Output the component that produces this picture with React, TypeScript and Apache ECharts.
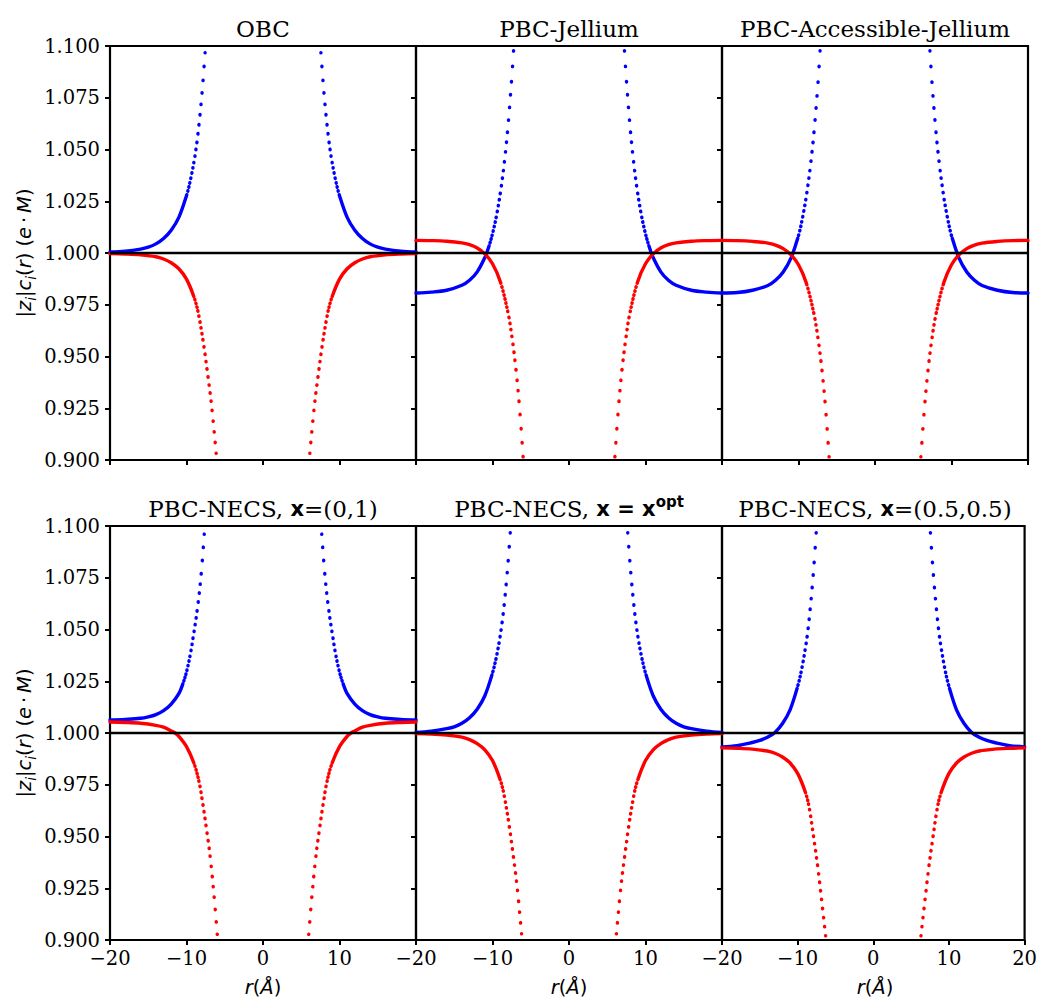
import React, { useEffect, useRef } from "react";
import * as echarts from "echarts";

// ---------- data (left branches; right branches mirror them) ----------
const TITLES_TOP = ["OBC", "PBC-Jellium", "PBC-Accessible-Jellium"];
const TITLES_BOTTOM = [
  "{s|PBC-NECS, }{b|x}{s|=(0,1)}",
  "{s|PBC-NECS, }{b|x = x}{sup|opt}",
  "{s|PBC-NECS, }{b|x}{s|=(0.5,0.5)}",
];

const blueOBC = [[-20, 1.0005], [-18, 1.0009], [-16, 1.0019], [-15, 1.0028], [-14, 1.0044], [-13, 1.007], [-12, 1.011], [-11, 1.0172], [-10, 1.0277], [-9.5, 1.035], [-9, 1.0445], [-8.65, 1.0531], [-8.39, 1.0613], [-8.12, 1.0712], [-7.91, 1.08], [-7.57, 1.0968]];
const redOBC = [[-20, 0.9997], [-18, 0.9995], [-16, 0.9991], [-14, 0.9982], [-13, 0.9971], [-12, 0.9953], [-11, 0.9924], [-10, 0.9874], [-9, 0.9785], [-8.46, 0.971], [-7.81, 0.957], [-7.24, 0.9416], [-6.71, 0.926], [-6.12, 0.9032]];

const blueJel = [[-20, 0.9807], [-18, 0.9811], [-16, 0.982], [-14, 0.9844], [-13, 0.9868], [-12, 0.9909], [-11, 0.9978], [-10.5, 1.0028], [-10, 1.0093], [-9.5, 1.0176], [-9, 1.0284], [-8.5, 1.0423], [-8, 1.0603], [-7.5, 1.0837], [-7.25, 1.0977]];
const redJel = [[-20, 1.0061], [-18, 1.006], [-16, 1.0057], [-14, 1.0049], [-13, 1.004], [-12, 1.0024], [-11, 0.9996], [-10, 0.9948], [-9, 0.9864], [-8, 0.9717], [-7.5, 0.9606], [-7, 0.9461], [-6.5, 0.9269], [-6.0, 0.9015]];

const blueAcc = [[-20, 0.9807], [-18, 0.9809], [-16, 0.982], [-14, 0.9843], [-13, 0.9868], [-12, 0.9908], [-11, 0.9974], [-10, 1.0084], [-9.5, 1.0165], [-9, 1.0269], [-8.5, 1.0403], [-8, 1.0575], [-7.5, 1.0797], [-7.18, 1.0977]];
const redAcc = [[-20, 1.0061], [-18, 1.006], [-16, 1.0056], [-14, 1.0048], [-13, 1.0038], [-12, 1.0021], [-11, 0.9992], [-10, 0.9943], [-9, 0.9857], [-8, 0.9709], [-7.5, 0.9601], [-7, 0.9457], [-6.5, 0.9268], [-6.0, 0.9015]];

const blueN01 = [[-20, 1.0063], [-18, 1.0066], [-16, 1.0071], [-15, 1.0078], [-14, 1.0089], [-13, 1.0108], [-12, 1.014], [-11, 1.019], [-10.5, 1.0235], [-10, 1.0295], [-9.52, 1.0376], [-9.12, 1.0465], [-8.6, 1.0594], [-8.12, 1.0752], [-7.68, 1.0961]];
const redN01 = [[-20, 1.0053], [-18, 1.0051], [-16, 1.0047], [-14, 1.0037], [-13, 1.0028], [-12, 1.001], [-11.5, 1.0], [-11, 0.9984], [-10, 0.9934], [-9, 0.9851], [-8.34, 0.9761], [-7.95, 0.9677], [-7.43, 0.9548], [-6.9, 0.94], [-6.38, 0.9206], [-5.98, 0.9027]];

const blueOpt = [[-20, 1.0003], [-18, 1.0009], [-16, 1.0021], [-15, 1.003], [-14, 1.0047], [-13, 1.0074], [-12, 1.0115], [-11, 1.018], [-10, 1.029], [-9.5, 1.0366], [-9.1, 1.0445], [-8.8, 1.0518], [-8.5, 1.0612], [-8.2, 1.0724], [-7.95, 1.0832], [-7.68, 1.0968]];
const redOpt = [[-20, 0.9997], [-18, 0.9995], [-16, 0.999], [-14, 0.998], [-13, 0.9968], [-12, 0.9949], [-11, 0.9919], [-10, 0.9867], [-9, 0.9775], [-8.54, 0.971], [-7.89, 0.957], [-7.32, 0.9416], [-6.79, 0.926], [-6.2, 0.903]];

const blueN55 = [[-20, 0.9933], [-18, 0.9939], [-16, 0.9954], [-15, 0.9964], [-14, 0.9979], [-13, 1.0003], [-12, 1.0046], [-11, 1.0112], [-10, 1.0225], [-9.5, 1.0302], [-9, 1.0405], [-8.7, 1.0479], [-8.4, 1.0579], [-8.1, 1.0696], [-7.8, 1.0833], [-7.55, 1.0968]];
const redN55 = [[-20, 0.9928], [-18, 0.9926], [-16, 0.9922], [-14, 0.9913], [-13, 0.9902], [-12, 0.9884], [-11, 0.9855], [-10, 0.9805], [-9, 0.9716], [-8.5, 0.9645], [-7.9, 0.95], [-7.35, 0.9355], [-6.85, 0.92], [-6.3, 0.902]];

const BLUE_CURVES = [blueOBC, blueJel, blueAcc, blueN01, blueOpt, blueN55];
const RED_CURVES = [redOBC, redJel, redAcc, redN01, redOpt, redN55];
const REFERENCE_LEVEL = 1.0;
const SAMPLE_DX = 40 / 300; // spacing of the plotted sample points along r

// ---------- layout ----------
const X_MIN = -20, X_MAX = 20, Y_MIN = 0.9, Y_MAX = 1.1;
const COL_LEFT = [110, 416, 722];
const COL_W = 306;
const ROW_TOP = [46, 526];
const ROW_H = 414;
const BLUE = "#0000ff";
const RED = "#ff0000";
const SERIF = "DejaVu Serif";
const SANS = "DejaVu Sans";
const LINE_W = 3.4;
const DOT_THRESHOLD = 3.4;

function toPx(panel: number, p: number[]) {
  const row = Math.floor(panel / 3), col = panel % 3;
  return [
    COL_LEFT[col] + ((p[0] - X_MIN) / (X_MAX - X_MIN)) * COL_W,
    ROW_TOP[row] + ((Y_MAX - p[1]) / (Y_MAX - Y_MIN)) * ROW_H,
  ];
}

// Dash pattern reproducing uniformly sampled scatter dots. The branch runs from
// its steep end (first point) to the flat edge: separate dots first, then the
// region where the dots overlap is drawn solid.
function dashFor(panel: number, pts: number[][]) {
  const pix = pts.map((p) => toPx(panel, p));
  const cum = [0];
  for (let k = 1; k < pix.length; k++) {
    cum.push(cum[k - 1] + Math.hypot(pix[k][0] - pix[k - 1][0], pix[k][1] - pix[k - 1][1]));
  }
  const xStart = pts[0][0];
  const xEnd = pts[pts.length - 1][0];
  const dir = Math.sign(xEnd - xStart);
  const arcAtX = (x: number) => {
    for (let k = 0; k < pts.length - 1; k++) {
      const a = pts[k][0], b = pts[k + 1][0];
      if ((x - a) * dir >= 0 && (b - x) * dir >= 0) {
        const t = (x - a) / (b - a);
        return cum[k] + t * (cum[k + 1] - cum[k]);
      }
    }
    return cum[cum.length - 1];
  };
  const n = Math.floor(Math.abs(xEnd - xStart) / SAMPLE_DX);
  const samples: number[] = [];
  for (let j = 0; j <= n; j++) samples.push(arcAtX(xStart + dir * j * SAMPLE_DX));
  const dash: number[] = [0.5];
  for (let j = 1; j < samples.length; j++) {
    const gap = samples[j] - samples[j - 1];
    if (gap <= DOT_THRESHOLD) break;
    dash.push(Math.max(gap - 0.5, 0.1), 0.5);
  }
  dash.push(0.01, 5000);
  return dash;
}

function curveSeries(pts: number[][], color: string, panel: number, z: number) {
  const left = pts.slice().reverse();
  const right = left.map(([x, y]) => [-x, y]);
  return [left, right].map((br) => ({
    type: "line",
    xAxisIndex: panel,
    yAxisIndex: panel,
    data: br,
    symbol: "none",
    showSymbol: false,
    smooth: 0.35,
    silent: true,
    z,
    lineStyle: {
      color,
      width: LINE_W,
      cap: "round",
      join: "round",
      type: dashFor(panel, br),
    },
  }));
}

const tickFmtX = (v: number) => (v < 0 ? "\u2212" + Math.abs(v) : String(v));

export default function App() {
  const ref = useRef<HTMLDivElement>(null);
  useEffect(() => {
    if (!ref.current) return;
    const chart = echarts.init(ref.current, undefined, { renderer: "svg" });
    const grids: any[] = [];
    const xAxes: any[] = [];
    const yAxes: any[] = [];
    let series: any[] = [];
    const graphics: any[] = [];
    const tick = { show: true, inside: false, length: 5, lineStyle: { color: "#000", width: 2 } };
    for (let i = 0; i < 6; i++) {
      const row = Math.floor(i / 3);
      const col = i % 3;
      grids.push({
        left: COL_LEFT[col],
        top: ROW_TOP[row],
        width: COL_W,
        height: ROW_H,
        show: true,
        borderColor: "#000",
        borderWidth: 2.2,
        backgroundColor: "transparent",
        containLabel: false,
      });
      xAxes.push({
        gridIndex: i,
        type: "value",
        position: "bottom",
        min: X_MIN,
        max: X_MAX,
        interval: 10,
        axisLine: { show: false, onZero: false },
        axisTick: tick,
        splitLine: { show: false },
        axisLabel: {
          show: row === 1,
          showMaxLabel: col === 2,
          showMinLabel: true,
          formatter: tickFmtX,
          fontFamily: SERIF,
          fontSize: 19.5,
          color: "#000",
          margin: 8,
        },
      });
      yAxes.push({
        gridIndex: i,
        type: "value",
        position: "left",
        min: Y_MIN,
        max: Y_MAX,
        interval: 0.025,
        axisLine: { show: false, onZero: false },
        axisTick: tick,
        splitLine: { show: false },
        axisLabel: {
          show: col === 0,
          formatter: (v: number) => v.toFixed(3),
          fontFamily: SERIF,
          fontSize: 19.5,
          color: "#000",
          margin: 10,
        },
      });
      series = series.concat(curveSeries(BLUE_CURVES[i], BLUE, i, 2));
      series = series.concat(curveSeries(RED_CURVES[i], RED, i, 3));
      series.push({
        type: "line",
        xAxisIndex: i,
        yAxisIndex: i,
        data: [[X_MIN, REFERENCE_LEVEL], [X_MAX, REFERENCE_LEVEL]],
        symbol: "none",
        silent: true,
        z: 4,
        lineStyle: { color: "#000", width: 2.5 },
      });

      const cx = COL_LEFT[col] + COL_W / 2;
      const titleY = ROW_TOP[row] - 17.5;
      if (row === 0) {
        graphics.push({
          type: "text",
          x: cx,
          y: titleY,
          silent: true,
          style: {
            text: TITLES_TOP[col],
            fill: "#000",
            fontFamily: SERIF,
            fontSize: 23,
            textAlign: "center",
            textVerticalAlign: "middle",
          },
        });
      } else {
        graphics.push({
          type: "text",
          x: cx,
          y: titleY,
          silent: true,
          style: {
            text: TITLES_BOTTOM[col],
            fill: "#000",
            textAlign: "center",
            textVerticalAlign: "middle",
            rich: {
              s: { fontFamily: SERIF, fontSize: 23, fill: "#000", lineHeight: 28, verticalAlign: "middle" },
              b: { fontFamily: SANS, fontWeight: "bold", fontSize: 21, fill: "#000", lineHeight: 28, verticalAlign: "middle" },
              sup: { fontFamily: SANS, fontWeight: "bold", fontSize: 15, fill: "#000", lineHeight: 14, verticalAlign: "top" },
            },
          },
        });
        graphics.push({
          type: "text",
          x: cx,
          y: 987,
          silent: true,
          style: {
            text: "{it|r}{up|(}{it|\u00c5}{up|)}",
            fill: "#000",
            textAlign: "center",
            textVerticalAlign: "middle",
            rich: {
              it: { fontFamily: SANS, fontStyle: "italic", fontSize: 19.5, fill: "#000" },
              up: { fontFamily: SANS, fontSize: 19.5, fill: "#000" },
            },
          },
        });
      }
      if (col === 0) {
        graphics.push({
          type: "text",
          x: 24.5,
          y: ROW_TOP[row] + ROW_H / 2,
          rotation: Math.PI / 2,
          silent: true,
          style: {
            text: "{up||}{it|z}{sub|i}{up||}{it|c}{sub|i}{up|(}{it|r}{up|) (}{it|e}{up|\u2009\u00b7\u2009}{it|M}{up|)}",
            fill: "#000",
            textAlign: "center",
            textVerticalAlign: "middle",
            rich: {
              it: { fontFamily: SANS, fontStyle: "italic", fontSize: 19.5, fill: "#000", lineHeight: 26, verticalAlign: "middle" },
              up: { fontFamily: SANS, fontSize: 19.5, fill: "#000", lineHeight: 26, verticalAlign: "middle" },
              sub: { fontFamily: SANS, fontStyle: "italic", fontSize: 13.5, fill: "#000", lineHeight: 13, verticalAlign: "bottom" },
            },
          },
        });
      }
    }
    chart.setOption({
      animation: false,
      backgroundColor: "#ffffff",
      grid: grids,
      xAxis: xAxes,
      yAxis: yAxes,
      series,
      graphic: graphics,
    });
    return () => chart.dispose();
  }, []);
  return (
    <div
      ref={ref}
      style={{ position: "absolute", left: 0, top: 0, width: 1040, height: 998, background: "#fff" }}
    />
  );
}
